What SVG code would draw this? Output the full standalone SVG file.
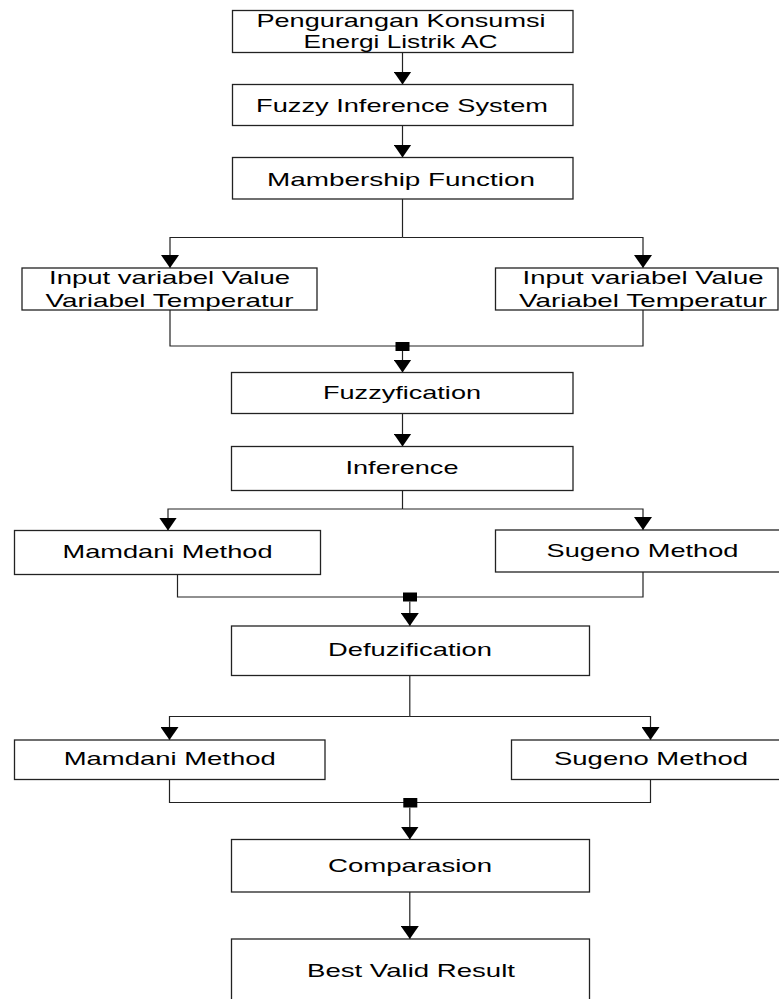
<svg xmlns="http://www.w3.org/2000/svg" width="779" height="999" viewBox="0 0 779 999">
<style>
.box{fill:#fff;stroke:#222;stroke-width:1.3}
.t{font-family:"Liberation Sans",Arial,sans-serif;font-size:19px;fill:#000;text-anchor:middle}
.c{fill:none;stroke:#222;stroke-width:1.2}
.a{marker-end:url(#arr)}
.sq{fill:#000}
</style>
<defs>
<marker id="arr" markerUnits="userSpaceOnUse" viewBox="0 0 13 18" refX="13" refY="9" markerWidth="13" markerHeight="18" orient="auto">
<path d="M0,0 L13,9 L0,18 Z" fill="#000"/>
</marker>
</defs>
<rect width="779" height="999" fill="#fff"/>
<g id="connectors">
<line class="c a" x1="402.5" y1="52.5" x2="402.5" y2="84.5"/>
<line class="c a" x1="402.5" y1="125.5" x2="402.5" y2="157.5"/>
<polyline class="c" points="402.5,199 402.5,237.5"/>
<polyline class="c a" points="402.5,237.5 170,237.5 170,268"/>
<polyline class="c a" points="402.5,237.5 643,237.5 643,268"/>
<polyline class="c" points="170,310 170,346 643,346 643,310"/>
<rect class="sq" x="395.5" y="342" width="14" height="9"/>
<line class="c a" x1="402.5" y1="351" x2="402.5" y2="372.5"/>
<line class="c a" x1="402.5" y1="413.5" x2="402.5" y2="446.5"/>
<polyline class="c" points="402.5,490.5 402.5,509"/>
<polyline class="c a" points="402.5,509 168,509 168,530.5"/>
<polyline class="c a" points="402.5,509 643,509 643,530"/>
<polyline class="c" points="177.5,574.5 177.5,597 643,597 643,572"/>
<rect class="sq" x="403" y="592.5" width="14" height="9"/>
<line class="c a" x1="409.8" y1="601.5" x2="409.8" y2="626"/>
<polyline class="c" points="409.8,675.5 409.8,716.5"/>
<polyline class="c a" points="409.8,716.5 169.5,716.5 169.5,740"/>
<polyline class="c a" points="409.8,716.5 650.5,716.5 650.5,740"/>
<polyline class="c" points="169.5,779.5 169.5,802.5 650.5,802.5 650.5,779.5"/>
<rect class="sq" x="403.3" y="798" width="14" height="9.5"/>
<line class="c a" x1="409.8" y1="807.5" x2="409.8" y2="839.5"/>
<line class="c a" x1="409.8" y1="892" x2="409.8" y2="939"/>
</g>
<g id="n1">
<rect class="box" x="232.5" y="10.5" width="340.5" height="42"/>
<text class="t" x="401" y="27.3" textLength="289" lengthAdjust="spacingAndGlyphs">Pengurangan Konsumsi</text>
<text class="t" x="400.5" y="48.3" textLength="194" lengthAdjust="spacingAndGlyphs">Energi Listrik AC</text>
</g>
<g id="n2">
<rect class="box" x="232.5" y="84.5" width="340.5" height="41"/>
<text class="t" x="402" y="111.7" textLength="292" lengthAdjust="spacingAndGlyphs">Fuzzy Inference System</text>
</g>
<g id="n3">
<rect class="box" x="232.5" y="157.5" width="340.5" height="41.5"/>
<text class="t" x="401" y="185.7" textLength="268" lengthAdjust="spacingAndGlyphs">Mambership Function</text>
</g>
<g id="n4">
<rect class="box" x="22" y="268" width="295" height="42"/>
<text class="t" x="169.5" y="284" textLength="241" lengthAdjust="spacingAndGlyphs">Input variabel Value</text>
<text class="t" x="169.5" y="306.5" textLength="248" lengthAdjust="spacingAndGlyphs">Variabel Temperatur</text>
</g>
<g id="n5">
<rect class="box" x="495.5" y="268" width="282.5" height="42"/>
<text class="t" x="643" y="284" textLength="241" lengthAdjust="spacingAndGlyphs">Input variabel Value</text>
<text class="t" x="643" y="306.5" textLength="248" lengthAdjust="spacingAndGlyphs">Variabel Temperatur</text>
</g>
<g id="n6">
<rect class="box" x="231.5" y="372.5" width="341.5" height="41"/>
<text class="t" x="402" y="399" textLength="158" lengthAdjust="spacingAndGlyphs">Fuzzyfication</text>
</g>
<g id="n7">
<rect class="box" x="231.5" y="446.5" width="341.5" height="44"/>
<text class="t" x="402" y="474" textLength="113" lengthAdjust="spacingAndGlyphs">Inference</text>
</g>
<g id="n8">
<rect class="box" x="14.5" y="530.5" width="306" height="44"/>
<text class="t" x="167.5" y="558" textLength="210" lengthAdjust="spacingAndGlyphs">Mamdani Method</text>
</g>
<g id="n9">
<rect class="box" x="495.5" y="530" width="300" height="42"/>
<text class="t" x="642.5" y="556.7" textLength="192" lengthAdjust="spacingAndGlyphs">Sugeno Method</text>
</g>
<g id="n10">
<rect class="box" x="231.5" y="626" width="358" height="49.5"/>
<text class="t" x="410" y="655.7" textLength="164" lengthAdjust="spacingAndGlyphs">Defuzification</text>
</g>
<g id="n11">
<rect class="box" x="14.5" y="740" width="310.5" height="39.5"/>
<text class="t" x="169.7" y="765" textLength="212" lengthAdjust="spacingAndGlyphs">Mamdani Method</text>
</g>
<g id="n12">
<rect class="box" x="511.5" y="740" width="290" height="39.5"/>
<text class="t" x="651" y="765" textLength="194" lengthAdjust="spacingAndGlyphs">Sugeno Method</text>
</g>
<g id="n13">
<rect class="box" x="231.5" y="839.5" width="358" height="52.5"/>
<text class="t" x="410" y="872.3" textLength="164" lengthAdjust="spacingAndGlyphs">Comparasion</text>
</g>
<g id="n14">
<rect class="box" x="231.5" y="939" width="358" height="80"/>
<text class="t" x="411" y="977.3" textLength="208" lengthAdjust="spacingAndGlyphs">Best Valid Result</text>
</g>
</svg>
